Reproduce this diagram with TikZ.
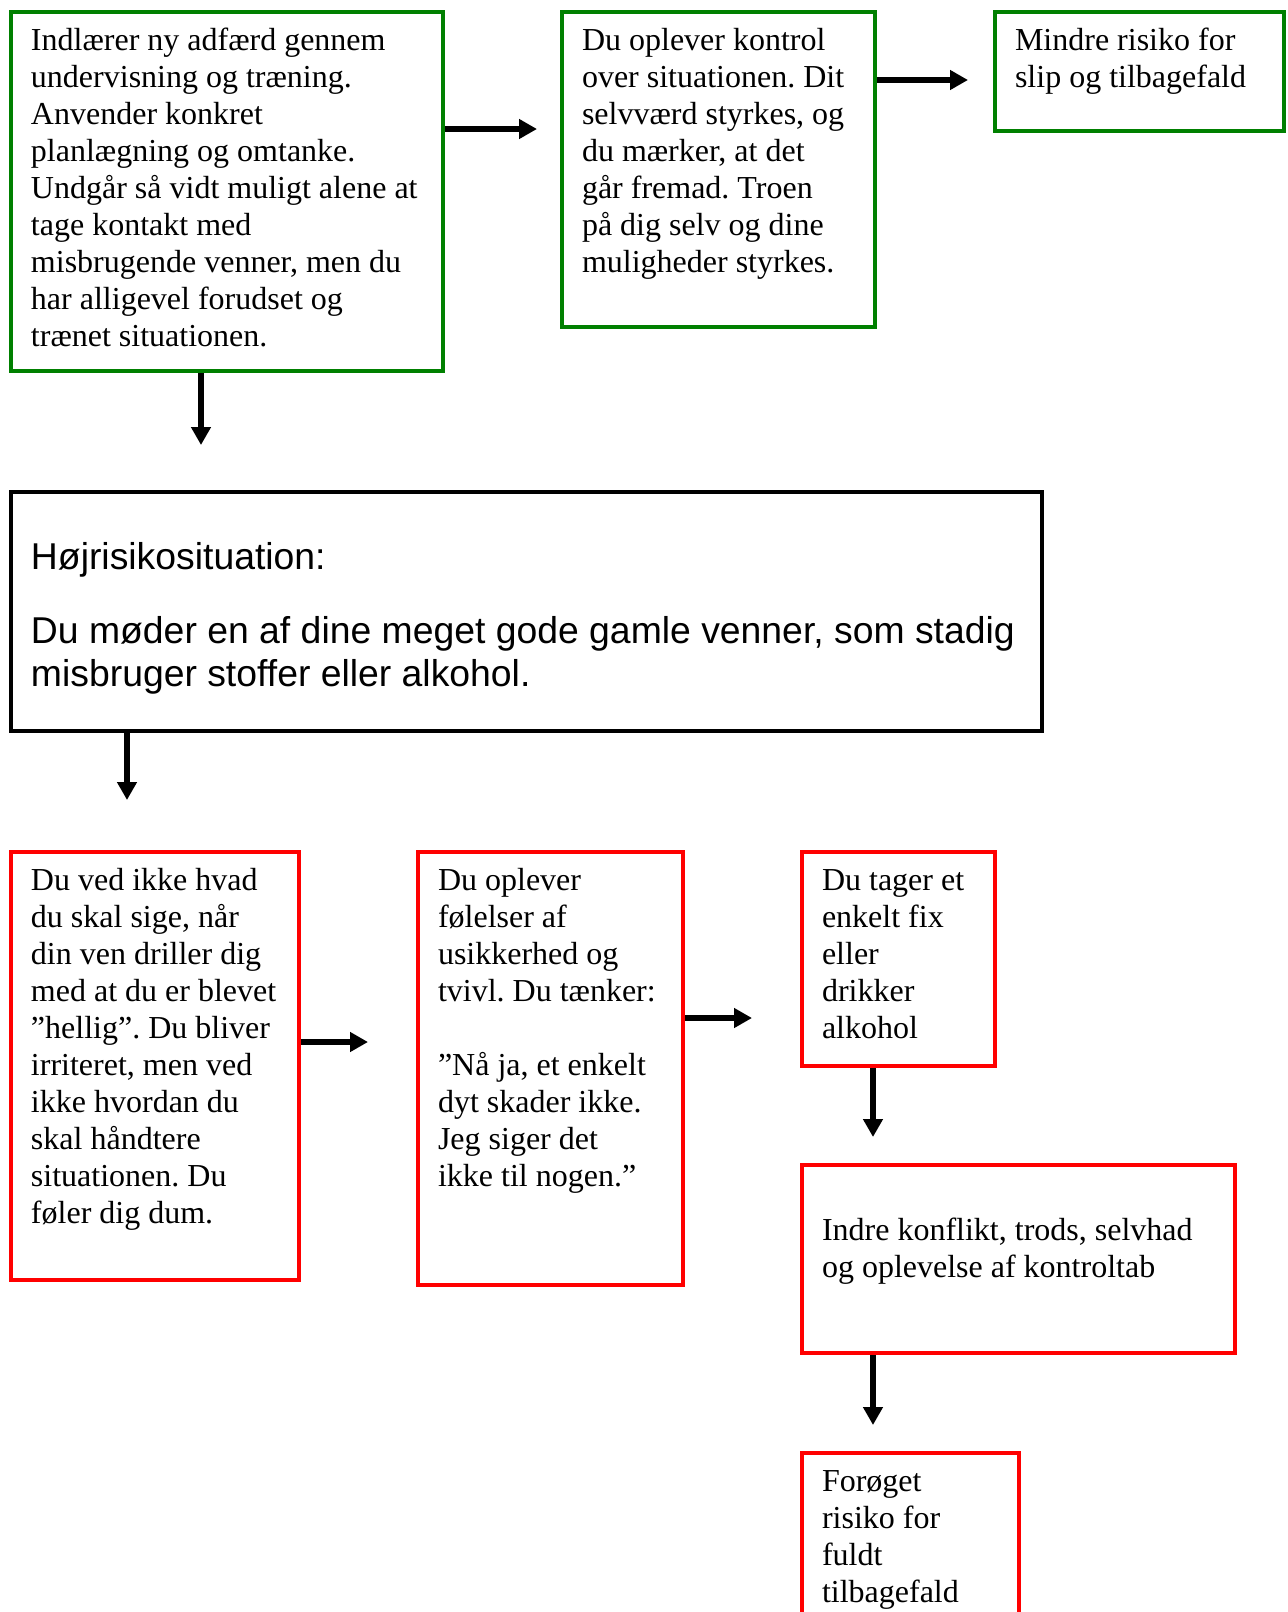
\documentclass[tikz,border=0pt]{standalone}
\usepackage{fontspec}
\setmainfont{Liberation Serif}
\newfontfamily\arialfont{Liberation Sans}
\usepackage{xcolor}
\usetikzlibrary{arrows.meta}
\definecolor{boxGreen}{RGB}{0, 128, 0}
\definecolor{boxRed}{RGB}{255, 0, 0}
\frenchspacing
% tekst i kasse: [luft foroven]{bredde px}{hoejde px}{linjer}
\newcommand{\boxtext}[4][0pt]{\parbox[t][\dimexpr#3pt/2-13pt\relax][t]{\dimexpr#2pt/2-20pt\relax}{\vspace*{#1}\begin{tabular}[t]{@{}l@{}}#4\end{tabular}}}
\tikzset{
  txtbox/.style={draw, line width=2pt, anchor=north west, inner xsep=10pt, inner ysep=6.5pt, font=\fontsize{16}{18.5}\selectfont},
  greenbox/.style={txtbox, draw=boxGreen},
  redbox/.style={txtbox, draw=boxRed},
  arr/.style={line width=3pt, -{Triangle[length=9pt, width=9.5pt]}}
}

\begin{document}
\begin{tikzpicture}[x=0.5pt, y=-0.5pt]
        \useasboundingbox (0,0) rectangle (1288,1612);
        \clip (0,0) rectangle (1288,1612);

        % Den gode vej
        \node[greenbox] (laer) at (9,10) {\boxtext{432}{359}{Indlærer ny adfærd gennem\\ undervisning og træning.\\ Anvender konkret\\ planlægning og omtanke.\\ Undgår så vidt muligt alene at\\ tage kontakt med\\ misbrugende venner, men du\\ har alligevel forudset og\\ trænet situationen.}};
        \node[greenbox] (kontrol) at (560,10) {\boxtext{313}{315}{Du oplever kontrol\\ over situationen. Dit\\ selvværd styrkes, og\\ du mærker, at det\\ går fremad. Troen\\ på dig selv og dine\\ muligheder styrkes.}};
        \node[greenbox] (mindre) at (993,10) {\boxtext{289}{119}{Mindre risiko for\\ slip og tilbagefald}};

        % Hoejrisikosituationen
        \node[txtbox, draw=black, font=\arialfont\fontsize{18.67}{21.5}\selectfont] (hoejrisiko) at (9,490) {\boxtext[17pt]{1031}{239}{Højrisikosituation:\\[15.5pt] Du møder en af dine meget gode gamle venner, som stadig\\ misbruger stoffer eller alkohol.}};

        % Den daarlige vej
        \node[redbox] (vedikke) at (9,850) {\boxtext{288}{428}{Du ved ikke hvad\\ du skal sige, når\\ din ven driller dig\\ med at du er blevet\\ ”hellig”. Du bliver\\ irriteret, men ved\\ ikke hvordan du\\ skal håndtere\\ situationen. Du\\ føler dig dum.}};
        \node[redbox] (tvivl) at (416,850) {\boxtext{265}{433}{Du oplever\\ følelser af\\ usikkerhed og\\ tvivl. Du tænker:\\ \\ ”Nå ja, et enkelt\\ dyt skader ikke.\\ Jeg siger det\\ ikke til nogen.”}};
        \node[redbox] (fix) at (800,850) {\boxtext{193}{214}{Du tager et\\ enkelt fix\\ eller\\ drikker\\ alkohol}};
        \node[redbox] (konflikt) at (800,1163) {\boxtext{433}{188}{\\ Indre konflikt, trods, selvhad\\ og oplevelse af kontroltab}};
        \node[redbox] (tilbagefald) at (800,1451) {\boxtext{217}{300}{Forøget\\ risiko for\\ fuldt\\ tilbagefald}};

        % Pile
        \coordinate (t1) at (537,129);
        \coordinate (t2) at (968,80);
        \coordinate (t3) at (201,445);
        \coordinate (t4) at (127,800);
        \coordinate (t5) at (368,1042);
        \coordinate (t6) at (752,1018);
        \coordinate (t7) at (873,1137);
        \coordinate (t8) at (873,1425);
        \draw[arr] (laer.east |- t1) -- (t1);
        \draw[arr] (kontrol.east |- t2) -- (t2);
        \draw[arr] (laer.south -| t3) -- (t3);
        \draw[arr] (hoejrisiko.south -| t4) -- (t4);
        \draw[arr] (vedikke.east |- t5) -- (t5);
        \draw[arr] (tvivl.east |- t6) -- (t6);
        \draw[arr] (fix.south -| t7) -- (t7);
        \draw[arr] (konflikt.south -| t8) -- (t8);
    \end{tikzpicture}
\end{document}
